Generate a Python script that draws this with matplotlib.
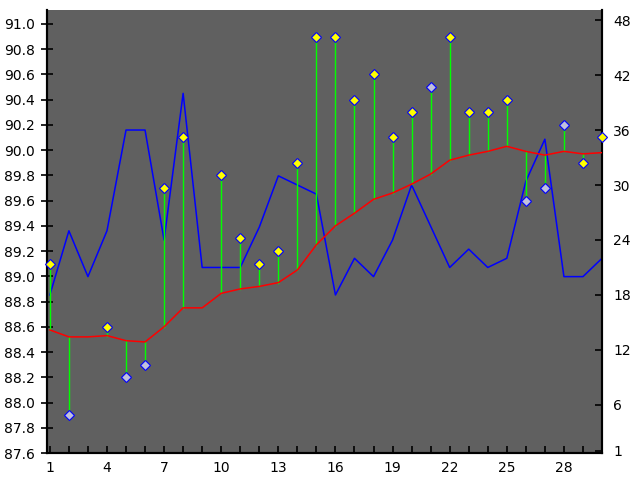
import matplotlib
matplotlib.use("Agg")
import matplotlib.pyplot as plt
import numpy as np

days = np.arange(1, 31)

# left axis: average (red line)
avg = [88.575, 88.52, 88.52, 88.53, 88.49, 88.48, 88.60, 88.75, 88.75, 88.865,
       88.90, 88.92, 88.95, 89.05, 89.25, 89.40, 89.50, 89.61, 89.66, 89.73,
       89.81, 89.92, 89.96, 89.99, 90.03, 89.99, 89.96, 89.99, 89.97, 89.98]

# left axis: measured points (None = no reading)
readings = [89.1, 87.9, None, 88.6, 88.2, 88.3, 89.7, 90.1, None, 89.8,
            89.3, 89.1, 89.2, 89.9, 90.9, 90.9, 90.4, 90.6, 90.1, 90.3,
            90.5, 90.9, 90.3, 90.3, 90.4, 89.6, 89.7, 90.2, 89.9, 90.1]
# which readings are drawn with the pale marker
pale = [2, 5, 6, 21, 26, 27, 28]

# right axis: blue line
counts = [18, 25, 20, 25, 36, 36, 24, 40, 21, 21,
          21, 25.4, 31, 30, 29, 18, 22, 20, 24, 30,
          25.5, 21, 23, 21, 22, 30.4, 35, 20, 20, 22]

fig = plt.figure(figsize=(6.4, 4.8), dpi=100)
ax = fig.add_axes([47 / 640, 27 / 480, 555 / 640, 443 / 480])
ax.set_facecolor("#606060")
ax2 = ax.twinx()

ax2.plot(days, counts, color="#0000ff", lw=1.1, zorder=1)
ax2.set_ylim(0.75, 49.1)
ax2.set_yticks([1, 6, 12, 18, 24, 30, 36, 42, 48])

ax.set_zorder(ax2.get_zorder() + 1)
ax.patch.set_visible(False)
ax2.patch.set_visible(True)
ax2.patch.set_facecolor("#606060")

for d, r, a in zip(days, readings, avg):
    if r is None:
        continue
    ax.plot([d, d], [a, r], color="#00ff00", lw=1.0, zorder=2)
ax.plot(days, avg, color="#ff0000", lw=1.1, zorder=3)

xs_y = [d for d, r in zip(days, readings) if r is not None and d not in pale]
ys_y = [r for d, r in zip(days, readings) if r is not None and d not in pale]
xs_p = [d for d, r in zip(days, readings) if r is not None and d in pale]
ys_p = [r for d, r in zip(days, readings) if r is not None and d in pale]
ax.plot(xs_y, ys_y, "D", ms=5.5, mfc="#ffff00", mec="#0000ff", mew=0.8,
        ls="none", zorder=4, clip_on=False)
ax.plot(xs_p, ys_p, "D", ms=5.5, mfc="#c0c0dc", mec="#0000ff", mew=0.8,
        ls="none", zorder=4, clip_on=False)

ax.set_xlim(0.85, 30)
ax.set_ylim(87.6, 91.11)
ax.set_yticks(np.arange(87.6, 91.01, 0.2))
ax.set_yticklabels(["%.1f" % v for v in np.arange(87.6, 91.01, 0.2)])
ax.set_xticks(days)
ax.set_xticklabels([str(d) if (d - 1) % 3 == 0 else "" for d in days])

for a_ in (ax, ax2):
    a_.spines["top"].set_visible(False)
    for s in ("left", "right", "bottom"):
        a_.spines[s].set_color("black")
        a_.spines[s].set_linewidth(1.5)

ax.tick_params(axis="y", direction="inout", length=9, width=1.2, labelsize=10, pad=4)
ax.tick_params(axis="x", direction="in", length=5, width=1.2, labelsize=10, pad=6)
ax2.tick_params(axis="y", direction="in", length=5, width=1.2, labelsize=10, pad=8)

fig.savefig("out.png", dpi=100, facecolor="white")
